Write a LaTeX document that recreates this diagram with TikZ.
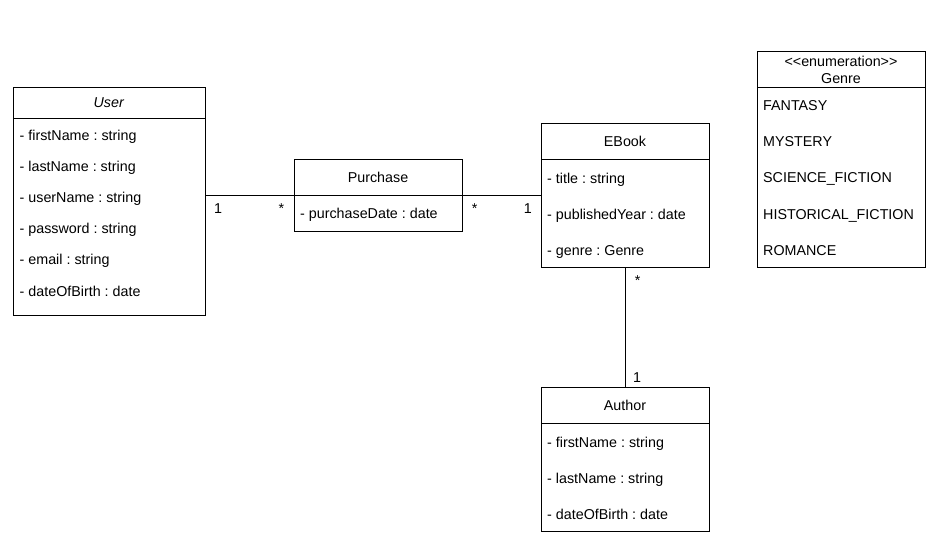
\documentclass[tikz,border=0pt]{standalone}
\usepackage{fontspec}
\setmainfont{Liberation Sans}
\usetikzlibrary{positioning}
\frenchspacing

\begin{document}
\begin{tikzpicture}[
          x=1pt, y=-1pt,
          every node/.style={font=\fontsize{14.3}{16.8}\selectfont},
          classhead/.style={draw, line width=1pt, outer sep=0pt, inner sep=0pt, minimum width=168pt, minimum height=36pt},
          classbody/.style={draw, line width=1pt, outer sep=0pt, inner sep=0pt, minimum width=168pt, below=0pt of #1},
          attr/.style={inner sep=0pt, anchor=base west},
          mult/.style={inner sep=0pt},
          assoc/.style={line width=1pt},
          ]

          \useasboundingbox (0,0) rectangle (942,551);

          % classes
          \node[classhead, minimum width=192pt, minimum height=31pt] (user) at (109,102.5) {\textit{User}};
          \node[classbody=user, minimum width=192pt, minimum height=197pt] (userbody) {};
          \node[classhead] (purchase) at (378,177) {Purchase};
          \node[classbody=purchase, minimum height=36pt] (purbody) {};
          \node[classhead] (ebook) at (625,141) {EBook};
          \node[classbody=ebook, minimum height=108pt] (ebookbody) {};
          \node[classhead, align=center] (genre) at (841,69.5) {<\kern0pt<enumeration>\kern0pt>\\Genre};
          \node[classbody=genre, minimum height=180pt] (genrebody) {};
          \node[classhead] (author) at (625,405) {Author};
          \node[classbody=author, minimum height=108pt] (authorbody) {};

          % attributes
          \node[attr] (user1) at (19.5,140.5) {- firstName : string};
          \node[attr] (user2) at (19.5,171.6) {- lastName : string};
          \node[attr] (user3) at (19.5,202.7) {- userName : string};
          \node[attr] (user4) at (19.5,233.8) {- password : string};
          \node[attr] (user5) at (19.5,264.9) {- email : string};
          \node[attr] (user6) at (19.5,296) {- dateOfBirth : date};
          \node[attr] (pur1) at (300,218.7) {- purchaseDate : date};
          \node[attr] (ebook1) at (547,183.3) {- title : string};
          \node[attr] (ebook2) at (547,219.3) {- publishedYear : date};
          \node[attr] (ebook3) at (547,255.3) {- genre : Genre};
          \node[attr] (genre1) at (763,110.7) {FANTASY};
          \node[attr] (genre2) at (763,146.7) {MYSTERY};
          \node[attr] (genre3) at (763,182.7) {SCIENCE\_FICTION};
          \node[attr] (genre4) at (763,219) {HISTORICAL\_FICTION};
          \node[attr] (genre5) at (763,255) {ROMANCE};
          \node[attr] (author1) at (547,447.3) {- firstName : string};
          \node[attr] (author2) at (547,483.3) {- lastName : string};
          \node[attr] (author3) at (547,519.3) {- dateOfBirth : date};

          % associations
          \draw[assoc] (userbody.east |- purbody.north) -- (purbody.north west)
            node[mult, pos=0, anchor=base west, xshift=8.5pt, yshift=-18pt] (m1) {1}
            node[mult, pos=1, anchor=base east, xshift=-9.3pt, yshift=-18pt] (m2) {*};
          \draw[assoc] (purbody.north east) -- (purbody.north east -| ebookbody.west)
            node[mult, pos=0, anchor=base west, xshift=9.3pt, yshift=-18pt] (m3) {*}
            node[mult, pos=1, anchor=base east, xshift=-8.7pt, yshift=-18pt] (m4) {1};
          \draw[assoc] (ebookbody.south) -- (author.north)
            node[mult, pos=0, anchor=base west, xshift=9.3pt, yshift=-18pt] (m5) {*}
            node[mult, pos=1, anchor=base west, xshift=7.5pt, yshift=5pt] (m6) {1};

        \end{tikzpicture}
\end{document}
